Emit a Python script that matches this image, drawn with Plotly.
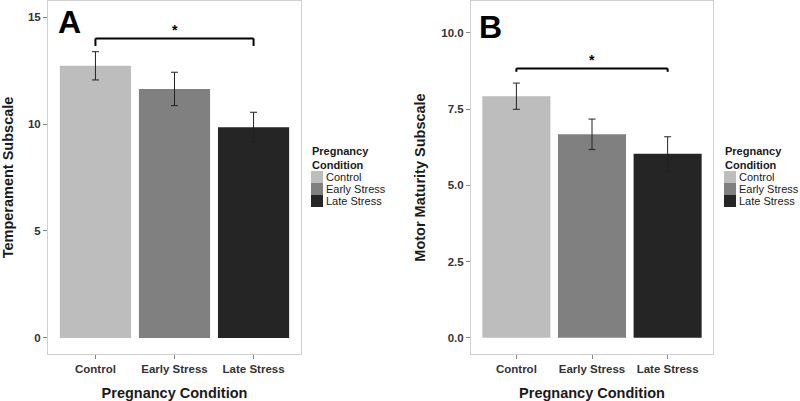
import plotly.graph_objects as go

# ---------------- data ----------------
categories = ["Control", "Early Stress", "Late Stress"]
bar_colors = ["#bdbdbd", "#808080", "#252525"]

temperament_mean = [12.72, 11.64, 9.85]
temperament_se = [0.66, 0.78, 0.70]

motor_mean = [7.92, 6.67, 6.03]
motor_se = [0.43, 0.50, 0.56]

a_ticks = [0, 5, 10, 15]
a_ticklabels = ["0", "5", "10", "15"]
b_ticks = [0, 2.5, 5, 7.5, 10]
b_ticklabels = ["0.0", "2.5", "5.0", "7.5", "10.0"]

# significance brackets (Control vs Late Stress)
a_bracket_y, a_bracket_tip = 14.0, 13.65
b_bracket_y, b_bracket_tip = 8.83, 8.72

W, H = 800, 401
FONT = "Liberation Sans, Arial, sans-serif"


def px_x(x):
    return x / W


def px_y(y):
    return 1 - y / H


fig = go.Figure()

fig.add_trace(go.Bar(
    x=categories, y=temperament_mean, width=0.9,
    marker=dict(color=bar_colors, line=dict(width=0)),
    error_y=dict(type="data", array=temperament_se, color="#222222",
                 thickness=1, width=3.5),
    xaxis="x", yaxis="y", showlegend=False,
))
fig.add_trace(go.Bar(
    x=categories, y=motor_mean, width=0.9,
    marker=dict(color=bar_colors, line=dict(width=0)),
    error_y=dict(type="data", array=motor_se, color="#222222",
                 thickness=1, width=3.5),
    xaxis="x2", yaxis="y2", showlegend=False,
))

y_dom = [px_y(354), px_y(1)]
axis_common = dict(
    showgrid=False, zeroline=False, showline=True, mirror=True,
    linecolor="#d0d0d0", linewidth=1,
    ticks="outside", ticklen=4, tickcolor="#888888", tickwidth=1,
    tickfont=dict(family=FONT, size=11.5, color="#333333", weight="bold"),
)
title_font = dict(family=FONT, size=14.5, color="#1a1a1a", weight="bold")

fig.update_layout(
    width=W, height=H,
    margin=dict(l=0, r=0, t=0, b=0),
    paper_bgcolor="white", plot_bgcolor="white",
    bargap=0.1,
    xaxis=dict(domain=[px_x(48), px_x(301)], anchor="y",
               range=[-0.6, 2.6], type="category",
               title=dict(text="Pregnancy Condition", font=title_font, standoff=14),
               **axis_common),
    yaxis=dict(domain=y_dom, anchor="x", range=[-0.75, 15.75],
               tickvals=a_ticks, ticktext=a_ticklabels,
               title=dict(text="Temperament Subscale", font=title_font, standoff=12),
               **axis_common),
    xaxis2=dict(domain=[px_x(471), px_x(713)], anchor="y2",
                range=[-0.6, 2.6], type="category",
                title=dict(text="Pregnancy Condition", font=title_font, standoff=14),
                **axis_common),
    yaxis2=dict(domain=y_dom, anchor="x2", range=[-0.53, 11.04],
                tickvals=b_ticks, ticktext=b_ticklabels,
                title=dict(text="Motor Maturity Subscale", font=title_font, standoff=12),
                **axis_common),
)

shapes = []
annotations = []

# significance brackets
for xr, yr, yb, yt in [("x", "y", a_bracket_y, a_bracket_tip),
                       ("x2", "y2", b_bracket_y, b_bracket_tip)]:
    for (x0, y0, x1, y1) in [(0, yb, 2, yb), (0, yt, 0, yb), (2, yt, 2, yb)]:
        shapes.append(dict(type="line", xref=xr, yref=yr, x0=x0, y0=y0,
                           x1=x1, y1=y1, line=dict(color="black", width=2)))
    annotations.append(dict(xref=xr, yref=yr, x=1, y=yb, text="*",
                            showarrow=False, yanchor="bottom", yshift=-2,
                            font=dict(family=FONT, size=14, color="black", weight="bold")))

# panel letters
annotations.append(dict(xref="paper", yref="paper", x=px_x(56), y=px_y(2),
                        xanchor="left", yanchor="top", text="A", showarrow=False,
                        font=dict(family=FONT, size=32, color="black", weight="bold")))
annotations.append(dict(xref="paper", yref="paper", x=px_x(477), y=px_y(7),
                        xanchor="left", yanchor="top", text="B", showarrow=False,
                        font=dict(family=FONT, size=32, color="black", weight="bold")))

# legends (one per panel)
for lx in [311, 724]:
    annotations.append(dict(xref="paper", yref="paper", x=px_x(lx - 1), y=px_y(143),
                            xanchor="left", yanchor="top", align="left",
                            text="Pregnancy<br>Condition", showarrow=False,
                            font=dict(family=FONT, size=11, color="#1a1a1a", weight="bold")))
    for i, (cat, col) in enumerate(zip(categories, bar_colors)):
        top = 171 + 12 * i
        shapes.append(dict(type="rect", xref="paper", yref="paper",
                           x0=px_x(lx), x1=px_x(lx + 12),
                           y0=px_y(top + 12), y1=px_y(top),
                           fillcolor=col, line=dict(width=0)))
        annotations.append(dict(xref="paper", yref="paper", x=px_x(lx + 13),
                                y=px_y(top + 6), xanchor="left", yanchor="middle",
                                text=cat, showarrow=False,
                                font=dict(family=FONT, size=11, color="#1a1a1a")))

fig.update_layout(shapes=shapes, annotations=annotations)

fig.write_html(
    "out.html",
    config={"displayModeBar": False},
    post_script="document.body.style.margin='0';"
                "document.documentElement.style.overflow='hidden';",
)
